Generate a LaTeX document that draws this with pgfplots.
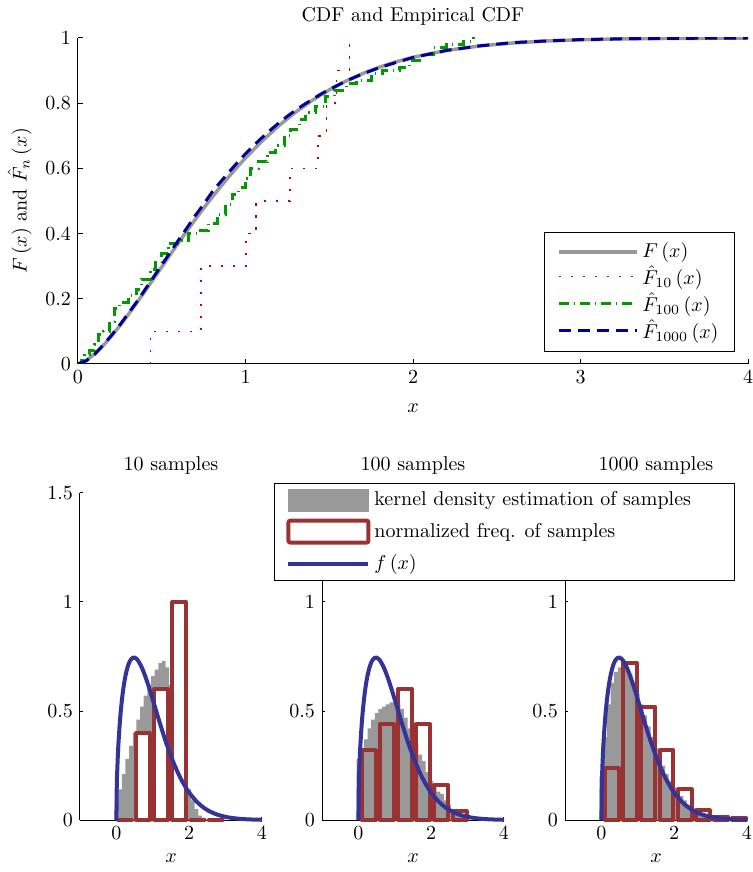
\documentclass[border=0pt]{standalone}
\usepackage{pgfplots}
\pgfplotsset{compat=1.18}
\definecolor{cgray}{rgb}{0.6,0.6,0.6}
\definecolor{cred}{rgb}{0.6,0.2,0.2}
\definecolor{cblue}{rgb}{0.2,0.2,0.6}
\definecolor{dred}{rgb}{0.75,0,0}
\definecolor{dgreen}{rgb}{0,0.6,0}
\definecolor{dblue}{rgb}{0,0,0.6}
\pgfplotsset{
  botpanel/.style={
    anchor=south west, scale only axis, width=91pt, height=163.5pt,
    xmin=-1, xmax=4, ymin=0, ymax=1.5,
    xtick={0,2,4}, ytick={0,0.5,1,1.5},
    axis x line*=bottom, axis y line*=left,
    axis line style={-, black, line width=0.5pt},
    tick align=inside, major tick length=1.5pt, tick style={black, line width=0.5pt},
    xlabel={$x$}, clip=false,
  },
  redbars/.style={ybar, bar width=0.38, bar shift=0pt, draw=cred, line width=2pt, fill=none, line join=round},
  kde/.style={const plot, fill=cgray, draw=none},
  pdfline/.style={cblue, line width=2pt, smooth},
}
\begin{document}
\begin{tikzpicture}
\useasboundingbox (0,0) rectangle (376.5pt,436pt);
% ---------------- top axis ----------------
\begin{axis}[
  at={(39pt,254pt)}, anchor=south west, scale only axis, width=335pt, height=163pt,
  xmin=0, xmax=4, ymin=0, ymax=1,
  xtick={0,1,2,3,4}, ytick={0,0.2,0.4,0.6,0.8,1},
  axis x line*=bottom, axis y line*=left,
  axis line style={-, black, line width=0.5pt},
  tick align=inside, major tick length=2.5pt, tick style={black, line width=0.5pt},
  xlabel={$x$}, ylabel={$F\left(x\right)$ and $\hat{F}_n\left(x\right)$},
  xlabel style={yshift=-3pt},
  title={CDF and Empirical CDF}, title style={yshift=-3pt},
  legend style={at={(1,0)}, anchor=south east, xshift=-6.5pt, yshift=6pt,
    draw=black, line width=0.5pt, cells={anchor=west}, row sep=0pt,
    inner xsep=6pt, inner ysep=4pt, nodes={inner ysep=1.2pt}},
  legend image code/.code={\draw[#1] (0pt,0pt) -- (39pt,0pt);},
]
\addplot[cgray, line width=1.75pt] coordinates {
(0,0)(0.05,0.0111)(0.1,0.0311)(0.15,0.0564)(0.2,0.0855)(0.25,0.1175)(0.3,0.1515)
(0.35,0.1871)(0.4,0.2235)(0.45,0.2606)(0.5,0.2978)(0.55,0.3350)(0.6,0.3717)(0.65,0.4078)
(0.7,0.4433)(0.75,0.4778)(0.8,0.5111)(0.85,0.5433)(0.9,0.5742)(0.95,0.6038)(1.0,0.6321)
(1.1,0.6845)(1.2,0.7314)(1.3,0.7729)(1.4,0.8092)(1.5,0.8407)(1.6,0.8679)(1.7,0.8910)
(1.8,0.9106)(1.9,0.9271)(2.0,0.9409)(2.2,0.9617)(2.4,0.9757)(2.6,0.9849)(2.8,0.9908)
(3.0,0.9945)(3.2,0.9967)(3.4,0.9981)(3.6,0.9989)(3.8,0.9994)(4.0,0.9997)};
\addlegendentry{$F\left(x\right)$}
\addplot[dred, line width=0.8pt, dash pattern=on 1.2pt off 4.8pt] coordinates {
(0.434,0)(0.434,0.1)(0.734,0.1)(0.734,0.3)(1.004,0.3)(1.004,0.4)(1.064,0.4)(1.064,0.5)
(1.264,0.5)(1.264,0.6)(1.434,0.6)(1.434,0.7)(1.484,0.7)(1.484,0.8)(1.544,0.8)(1.544,0.9)
(1.62,0.9)(1.62,1.0)};
\addlegendentry{$\hat{F}_{10}\left(x\right)$}
\addplot[dgreen, line width=1.5pt, const plot, dash pattern=on 5pt off 2.5pt on 0.6pt off 2.5pt] coordinates {
(0,0)(0.02,0.01)(0.04,0.03)(0.07,0.04)(0.1,0.06)(0.12,0.09)(0.15,0.10)(0.19,0.13)
(0.22,0.17)(0.25,0.19)(0.3,0.21)(0.35,0.23)(0.38,0.26)(0.43,0.29)(0.46,0.31)(0.5,0.34)
(0.54,0.37)(0.62,0.38)(0.66,0.40)(0.72,0.41)(0.78,0.43)(0.83,0.46)(0.88,0.49)(0.92,0.52)
(0.96,0.54)(1.0,0.57)(1.03,0.60)(1.08,0.62)(1.13,0.65)(1.18,0.67)(1.23,0.70)(1.27,0.72)
(1.32,0.75)(1.36,0.77)(1.42,0.79)(1.48,0.82)(1.53,0.84)(1.6,0.86)(1.66,0.87)(1.75,0.89)
(1.82,0.90)(1.92,0.91)(1.98,0.93)(2.05,0.95)(2.12,0.97)(2.2,0.98)(2.3,0.99)(2.36,1.0)(2.37,1.0)};
\addlegendentry{$\hat{F}_{100}\left(x\right)$}
\addplot[dblue, line width=1.5pt, dash pattern=on 6pt off 3.5pt] coordinates {
(0,0)(0.05,0.01)(0.1,0.03)(0.15,0.058)(0.2,0.088)(0.25,0.12)(0.3,0.155)(0.35,0.19)
(0.4,0.228)(0.45,0.266)(0.5,0.304)(0.55,0.342)(0.6,0.38)(0.65,0.417)(0.7,0.455)(0.75,0.49)
(0.8,0.527)(0.85,0.558)(0.9,0.588)(0.95,0.617)(1.0,0.645)(1.05,0.671)(1.1,0.695)(1.15,0.718)
(1.2,0.74)(1.25,0.76)(1.3,0.779)(1.35,0.796)(1.4,0.812)(1.45,0.828)(1.5,0.842)(1.6,0.868)
(1.7,0.89)(1.8,0.909)(1.9,0.925)(2.0,0.94)(2.2,0.962)(2.4,0.976)(2.6,0.986)(2.8,0.991)
(3.0,0.995)(3.3,0.998)(3.6,0.999)(4.0,1.0)};
\addlegendentry{$\hat{F}_{1000}\left(x\right)$}
\end{axis}
% ---------------- panel 1 ----------------
\begin{axis}[botpanel, at={(40pt,26pt)}, title={10 samples}]
\addplot[kde] coordinates {
(-0.05,0.08)(0.05,0.14)(0.15,0.21)(0.25,0.28)(0.35,0.34)(0.45,0.40)(0.55,0.46)(0.65,0.52)
(0.75,0.57)(0.85,0.62)(0.95,0.66)(1.05,0.69)(1.15,0.72)(1.25,0.73)(1.35,0.70)(1.45,0.62)
(1.55,0.50)(1.65,0.40)(1.75,0.31)(1.85,0.22)(1.95,0.14)(2.05,0.09)(2.15,0.05)(2.25,0.02)
(2.35,0.01)(2.45,0)} \closedcycle;
\addplot[redbars, fill=white] coordinates {(0.23,0)(0.73,0.4)(1.23,0.6)(1.73,1.0)(2.23,0)(2.73,0)};
\addplot[pdfline] coordinates {
(0,0)(0.01,0.1499)(0.02,0.2115)(0.05,0.3317)(0.1,0.4596)(0.15,0.5481)(0.2,0.6134)(0.25,0.6619)
(0.3,0.6971)(0.35,0.7214)(0.4,0.7366)(0.45,0.7440)(0.5,0.7448)(0.55,0.7398)(0.6,0.7300)
(0.7,0.6987)(0.8,0.6560)(0.9,0.6059)(1.0,0.5518)(1.1,0.4963)(1.2,0.4414)(1.3,0.3885)
(1.4,0.3386)(1.5,0.2926)(1.6,0.2507)(1.7,0.2132)(1.8,0.1799)(1.9,0.1507)(2.0,0.1254)
(2.2,0.0852)(2.4,0.0564)(2.6,0.0365)(2.8,0.0232)(3.0,0.0144)(3.2,0.0088)(3.4,0.0052)
(3.6,0.0031)(3.8,0.0018)(4.0,0.0010)};
\end{axis}
% ---------------- panel 2 ----------------
\begin{axis}[botpanel, at={(161pt,26pt)}, title={100 samples}]
\addplot[kde] coordinates {
(-0.05,0.28)(0.05,0.32)(0.15,0.37)(0.25,0.42)(0.35,0.46)(0.45,0.49)(0.55,0.51)(0.65,0.52)
(0.75,0.53)(0.85,0.54)(0.95,0.54)(1.05,0.53)(1.15,0.51)(1.25,0.47)(1.35,0.42)(1.45,0.39)
(1.55,0.35)(1.65,0.30)(1.75,0.27)(1.85,0.22)(1.95,0.18)(2.05,0.15)(2.15,0.13)(2.25,0.12)
(2.35,0.09)(2.45,0.07)(2.55,0.05)(2.65,0.03)(2.75,0.02)(2.85,0.01)(2.95,0)} \closedcycle;
\addplot[redbars] coordinates {(0.28,0.32)(0.78,0.44)(1.28,0.60)(1.78,0.44)(2.28,0.16)(2.78,0.04)};
\addplot[pdfline] coordinates {
(0,0)(0.01,0.1499)(0.02,0.2115)(0.05,0.3317)(0.1,0.4596)(0.15,0.5481)(0.2,0.6134)(0.25,0.6619)
(0.3,0.6971)(0.35,0.7214)(0.4,0.7366)(0.45,0.7440)(0.5,0.7448)(0.55,0.7398)(0.6,0.7300)
(0.7,0.6987)(0.8,0.6560)(0.9,0.6059)(1.0,0.5518)(1.1,0.4963)(1.2,0.4414)(1.3,0.3885)
(1.4,0.3386)(1.5,0.2926)(1.6,0.2507)(1.7,0.2132)(1.8,0.1799)(1.9,0.1507)(2.0,0.1254)
(2.2,0.0852)(2.4,0.0564)(2.6,0.0365)(2.8,0.0232)(3.0,0.0144)(3.2,0.0088)(3.4,0.0052)
(3.6,0.0031)(3.8,0.0018)(4.0,0.0010)};
\end{axis}
% ---------------- panel 3 ----------------
\begin{axis}[botpanel, at={(282.5pt,26pt)}, title={1000 samples},
  legend style={at={(-1.599,1.0306)}, anchor=north west, draw=black, line width=0.5pt,
    cells={anchor=west}, row sep=3pt, inner xsep=6pt},
]
\addlegendimage{legend image code/.code={\fill[cgray] (0pt,-5.5pt) rectangle (40pt,5.5pt);}}
\addlegendentry{\makebox[172pt][l]{kernel density estimation of samples}}
\addlegendimage{legend image code/.code={\draw[cred, line width=2pt, rounded corners=1pt] (0pt,-5.5pt) rectangle (40pt,5.5pt);}}
\addlegendentry{normalized freq. of samples}
\addlegendimage{legend image code/.code={\draw[cblue, line width=2pt] (0pt,0pt) -- (40pt,0pt);}}
\addlegendentry{$f\left(x\right)$}
\addplot[kde, forget plot] coordinates {
(-0.05,0.2)(0.05,0.38)(0.15,0.53)(0.25,0.63)(0.35,0.68)(0.45,0.70)(0.55,0.71)(0.65,0.70)
(0.75,0.67)(0.85,0.63)(0.95,0.58)(1.05,0.53)(1.15,0.48)(1.25,0.43)(1.35,0.38)(1.45,0.33)
(1.55,0.29)(1.65,0.25)(1.75,0.21)(1.85,0.18)(1.95,0.15)(2.05,0.13)(2.15,0.11)(2.25,0.09)
(2.35,0.07)(2.45,0.06)(2.55,0.05)(2.65,0.04)(2.75,0.03)(2.85,0.02)(2.95,0.015)(3.05,0.01)
(3.2,0.005)(3.5,0)} \closedcycle;
\addplot[redbars, forget plot] coordinates {(0.29,0.24)(0.79,0.72)(1.29,0.52)(1.79,0.32)(2.29,0.14)(2.79,0.044)(3.29,0.016)(3.79,0.01)};
\addplot[pdfline, forget plot] coordinates {
(0,0)(0.01,0.1499)(0.02,0.2115)(0.05,0.3317)(0.1,0.4596)(0.15,0.5481)(0.2,0.6134)(0.25,0.6619)
(0.3,0.6971)(0.35,0.7214)(0.4,0.7366)(0.45,0.7440)(0.5,0.7448)(0.55,0.7398)(0.6,0.7300)
(0.7,0.6987)(0.8,0.6560)(0.9,0.6059)(1.0,0.5518)(1.1,0.4963)(1.2,0.4414)(1.3,0.3885)
(1.4,0.3386)(1.5,0.2926)(1.6,0.2507)(1.7,0.2132)(1.8,0.1799)(1.9,0.1507)(2.0,0.1254)
(2.2,0.0852)(2.4,0.0564)(2.6,0.0365)(2.8,0.0232)(3.0,0.0144)(3.2,0.0088)(3.4,0.0052)
(3.6,0.0031)(3.8,0.0018)(4.0,0.0010)};
\end{axis}
\end{tikzpicture}
\end{document}
